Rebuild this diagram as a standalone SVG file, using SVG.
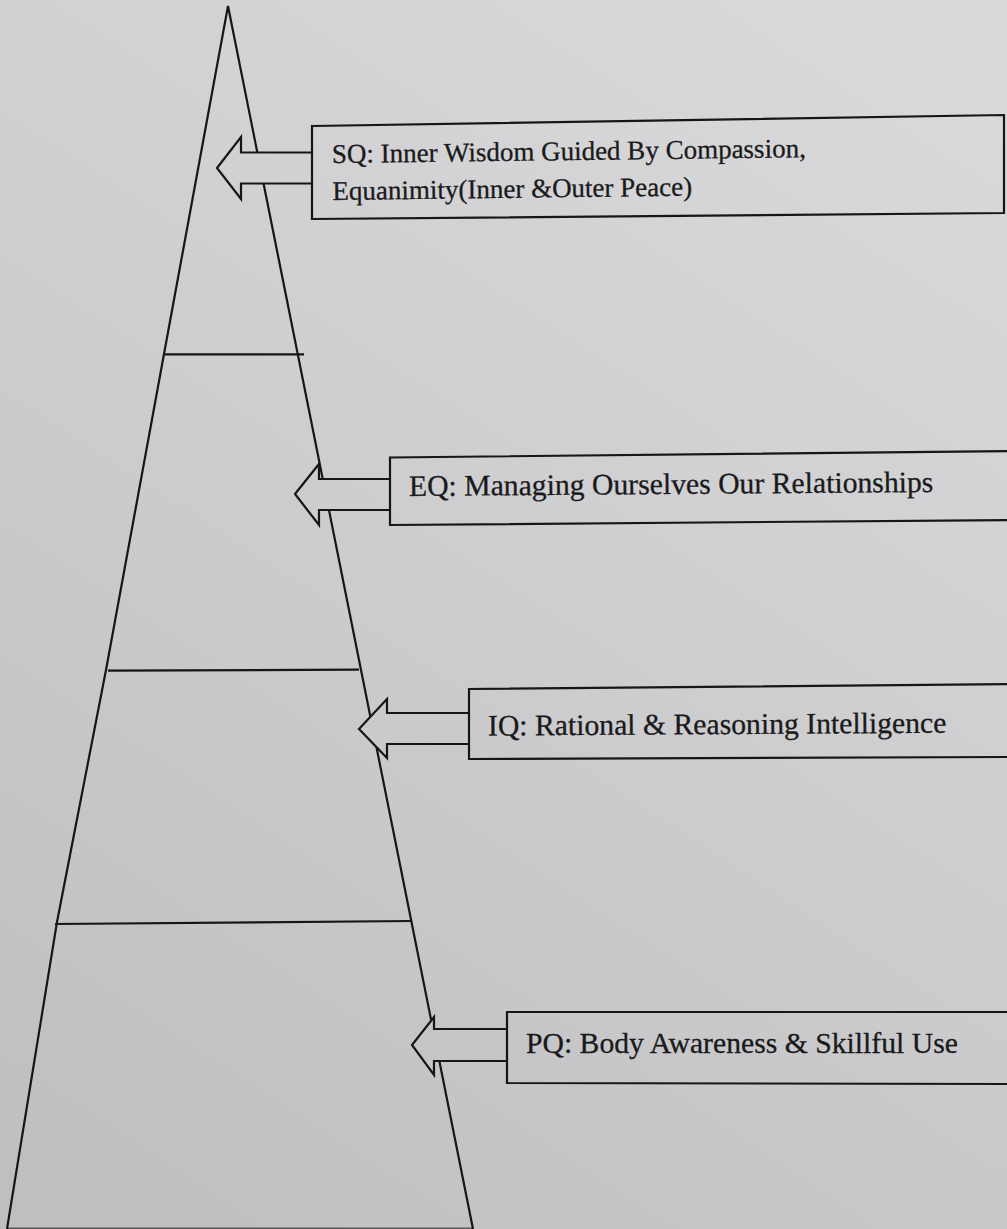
<svg xmlns="http://www.w3.org/2000/svg" width="1007" height="1229" viewBox="0 0 1007 1229">
  <defs>
    <linearGradient id="paper" gradientUnits="userSpaceOnUse" x1="900" y1="0" x2="100" y2="1229">
      <stop offset="0" stop-color="#dadadc"/>
      <stop offset="0.5" stop-color="#cdcdd0"/>
      <stop offset="1" stop-color="#bfbfc2"/>
    </linearGradient>
    <style>
      .ink { fill: none; stroke: #161616; stroke-width: 2.2; stroke-linejoin: miter; }
      .box { fill: url(#paper); stroke: #161616; stroke-width: 2.2; }
      .arrow { fill: url(#paper); stroke: #161616; stroke-width: 2.2; stroke-linejoin: miter; }
      .label { font-family: "Liberation Serif", "Times New Roman", serif; font-size: 29.7px; fill: #1a1a1a; stroke: #1a1a1a; stroke-width: 0.3; }
      .label-sm { font-family: "Liberation Serif", "Times New Roman", serif; font-size: 27px; fill: #1a1a1a; stroke: #1a1a1a; stroke-width: 0.3; }
    </style>
  </defs>

  <!-- page -->
  <rect x="0" y="0" width="1007" height="1229" fill="url(#paper)"/>

  <!-- pyramid outline and level dividers -->
  <g id="pyramid">
    <path class="ink" d="M7,1229 L57,922 L106,670 L164,354 L228,6 L473,1229"/>
    <line class="ink" x1="7" y1="1228.5" x2="473" y2="1228.5" stroke-opacity="0.6"/>
    <line class="ink" x1="163" y1="354.3" x2="304" y2="354.3"/>
    <line class="ink" x1="108" y1="670.7" x2="359" y2="669.7"/>
    <line class="ink" x1="55" y1="924" x2="412" y2="921"/>
  </g>

  <!-- block arrows from each label box into the pyramid -->
  <g id="connectors">
    <polygon class="arrow" points="217,168 241,137 241,152.5 313,152.5 313,183.5 241,183.5 241,199"/>
    <polygon class="arrow" points="295,494 319,464 319,479 391,479 391,510 319,510 319,525"/>
    <polygon class="arrow" points="359,729 387,699 387,713 470,713 470,744 387,744 387,758"/>
    <polygon class="arrow" points="412,1045 434,1017 434,1029 508,1029 508,1061 434,1061 434,1075"/>
  </g>

  <g id="sq">
    <polygon class="box" points="312,126 1004,115 1004,213 312,219"/>
    <g transform="rotate(-0.7 332 163)">
      <text class="label-sm" x="332" y="163">SQ: Inner Wisdom Guided By Compassion,</text>
      <text class="label-sm" x="332" y="200">Equanimity(Inner &amp;Outer Peace)</text>
    </g>
  </g>

  <g id="eq">
    <polygon class="box" points="1012,451 390,457.5 390,525 1012,520"/>
    <text class="label" x="409" y="496" transform="rotate(-0.45 409 496)">EQ: Managing Ourselves Our Relationships</text>
  </g>

  <g id="iq">
    <polygon class="box" points="1012,684 469,689 469,759 1012,757"/>
    <text class="label" x="488" y="735.5" transform="rotate(-0.35 488 735.5)">IQ: Rational &amp; Reasoning Intelligence</text>
  </g>

  <g id="pq">
    <polygon class="box" points="1012,1012 507,1012 507,1083 1012,1084"/>
    <text class="label" x="526" y="1053">PQ: Body Awareness &amp; Skillful Use</text>
  </g>
</svg>
